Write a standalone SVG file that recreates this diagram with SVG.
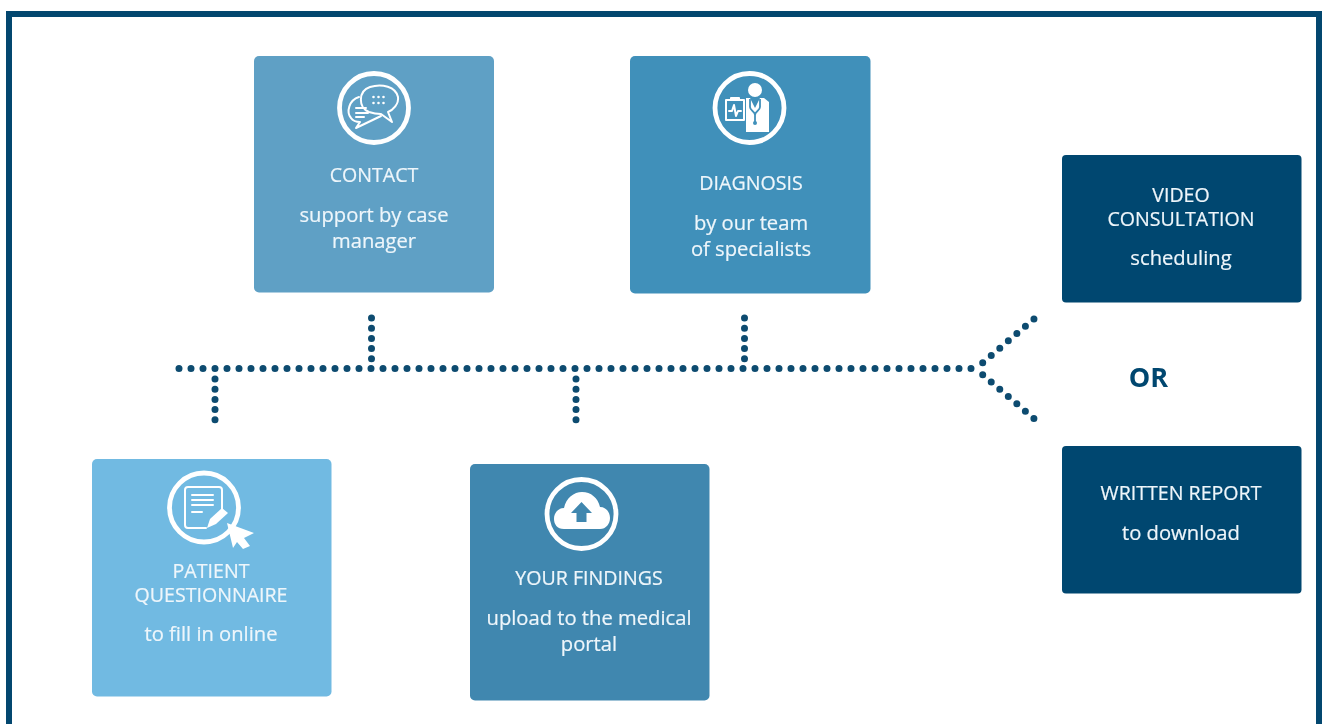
<svg xmlns="http://www.w3.org/2000/svg" width="1328" height="724" viewBox="0 0 1328 724">
<defs>
<filter id="soft" x="-5%" y="-5%" width="110%" height="110%"><feGaussianBlur stdDeviation="0.4"/></filter>
<style>
.card{stroke:none}
.node{filter:url(#soft)}
.t{font-family:"Open Sans","Liberation Sans",sans-serif;font-size:19.6px;fill:#eef6fb;stroke:#eef6fb;stroke-width:.2;text-anchor:middle}
.l{font-size:20.2px}
.d{fill:none;stroke:#0f4c70;stroke-width:7;stroke-linecap:round;stroke-dasharray:0 12}
.v{stroke-dasharray:0 10.2}
.b{stroke-dasharray:0 11.22}
.i{fill:none;stroke:#fff;stroke-width:2;stroke-linecap:round;stroke-linejoin:round}
.r{fill:none;stroke:#fff;stroke-width:4.800}
.f{fill:#fff;stroke:none}
</style></defs>
<rect width="1328" height="724" fill="#fff"/>
<path d="M9 724V14H1319V724" fill="none" stroke="#03476f" stroke-width="6"/>
<g id="connectors" class="node">
<path class="d" d="M179 368.5H972"/>
<path class="d v" d="M215 379V421"/>
<path class="d v" d="M371.5 318V360"/>
<path class="d v" d="M576 379V421"/>
<path class="d v" d="M744.500 318V360"/>
<path class="d b" d="M982.700 362.700L1034 319"/>
<path class="d b" d="M982.700 374.700L1034 418.500"/>
</g>
<g id="contact" class="node">
<rect class="card" x="254" y="56" width="240" height="236.500" rx="5" fill="#5fa0c5"/>
<circle class="r" cx="374" cy="108" r="34.500"/>
<path class="i" d="M369 112C358 108 358 91 370 87C382 83 396 87 398 97C399 104 393 110 388 112L392 122L381 114Q375 114 369 112Z"/>
<path class="i" d="M359 97C349 100 346 112 351 118C353 121 356 122 360 122L356 128L381 116"/>
<path class="i" d="M356 108H366M356 113H368M356 117H364"/>
<path class="i" style="stroke-dasharray:0 5;stroke-width:2.600" d="M373.500 97H387M373.500 103H387"/>
<text class="t" x="374" y="182">CONTACT</text>
<text class="t l" x="374" y="222">support by case</text>
<text class="t l" x="374" y="248">manager</text>
</g>
<g id="diagnosis" class="node">
<rect class="card" x="630" y="56" width="240.500" height="237.500" rx="5" fill="#4090ba"/>
<circle class="r" cx="749.500" cy="108" r="34.500"/>
<circle class="f" cx="755" cy="90" r="7"/>
<path class="f" d="M746 98L750 98L755 108L760 98L764 98L769 102V132H746Z"/>
<path class="i" d="M726 100H744V120H726Z"/>
<path class="i" d="M729 111H732L734 105L736 116L738 111H741M731 100V98H739V100"/>
<path d="M750 99V107C750 111 755 111 755 115V122M760 99V107C760 111 755 111 755 115" fill="none" stroke="#4090ba" stroke-width="1.800"/>
<circle cx="755" cy="123" r="2" fill="#4090ba"/>
<text class="t" x="751" y="190">DIAGNOSIS</text>
<text class="t l" x="751" y="230">by our team</text>
<text class="t l" x="751" y="256">of specialists</text>
</g>
<g id="video" class="node">
<rect class="card" x="1062" y="155" width="239.500" height="147.500" rx="4" fill="#03476f"/>
<text class="t" x="1181" y="202">VIDEO</text>
<text class="t" x="1181" y="226">CONSULTATION</text>
<text class="t l" x="1181" y="265">scheduling</text>
</g>
<g id="or" class="node"><text x="1148.500" y="387" font-family="'Open Sans','Liberation Sans',sans-serif" font-weight="700" font-size="27" fill="#03476f" text-anchor="middle">OR</text></g>
<g id="report" class="node">
<rect class="card" x="1062" y="446" width="239.500" height="147.500" rx="4" fill="#03476f"/>
<text class="t" x="1181" y="500">WRITTEN REPORT</text>
<text class="t l" x="1181" y="540">to download</text>
</g>
<g id="patient" class="node">
<rect class="card" x="92" y="459" width="239.500" height="237.500" rx="5" fill="#71bae2"/>
<circle class="r" cx="204" cy="507.500" r="34.500"/>
<path class="i" d="M188 487H219Q222 487 222 490V510M188 487Q185 487 185 490V525Q185 528 188 528H206"/>
<path class="i" d="M192 495H213M192 500H213M192 505H213M192 512H202"/>
<path class="f" d="M207 528L210 519L222 508L228 513L216 524Z"/>
<path class="f" d="M227 523L254 533L244 538L250 546L243 549L237 542L233 548Z"/>
<text class="t" x="211" y="578">PATIENT</text>
<text class="t" x="211" y="602">QUESTIONNAIRE</text>
<text class="t l" x="211" y="641">to fill in online</text>
</g>
<g id="findings" class="node">
<rect class="card" x="470" y="464" width="239.500" height="236.500" rx="5" fill="#4087af"/>
<circle class="r" cx="581.500" cy="514" r="34.500"/>
<path class="f" d="M564 529C557 529 554 524 554 519C554 513 558 508 564 508C566 498 574 492 582 492C591 492 598 498 600 507C606 507 610 512 610 518C610 524 606 529 600 529Z"/>
<path d="M581.500 502L571 513H576.500V522H586.500V513H592Z" fill="#4087af"/>
<text class="t" x="589" y="585">YOUR FINDINGS</text>
<text class="t l" x="589" y="625">upload to the medical</text>
<text class="t l" x="589" y="651">portal</text>
</g>
</svg>
